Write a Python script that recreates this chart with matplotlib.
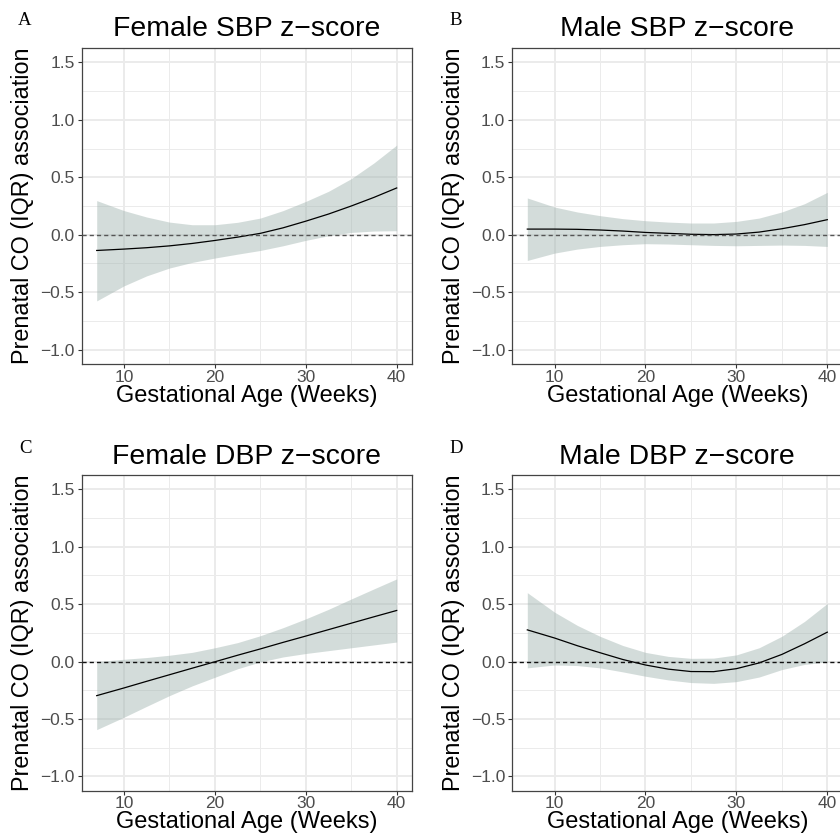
import matplotlib
matplotlib.use("Agg")
import matplotlib.pyplot as plt
from matplotlib.ticker import MultipleLocator, FuncFormatter

# ---------------- data ----------------
weeks = [7, 10, 12.5, 15, 17.5, 20, 22.5, 25, 27.5, 30, 32.5, 35, 37.5, 40]

titles = ["Female SBP z\u2212score", "Male SBP z\u2212score",
          "Female DBP z\u2212score", "Male DBP z\u2212score"]
panel_letters = ["A", "B", "C", "D"]

fsbp_fit = [-0.137, -0.125, -0.113, -0.097, -0.076, -0.050, -0.021, 0.012, 0.060, 0.118, 0.180, 0.250, 0.325, 0.407]
fsbp_lo = [-0.576, -0.445, -0.358, -0.290, -0.241, -0.203, -0.169, -0.137, -0.096, -0.049, -0.009, 0.020, 0.032, 0.035]
fsbp_hi = [0.297, 0.210, 0.154, 0.110, 0.087, 0.087, 0.108, 0.145, 0.210, 0.290, 0.378, 0.488, 0.625, 0.780]

msbp_fit = [0.049, 0.049, 0.047, 0.041, 0.032, 0.020, 0.012, 0.004, 0.001, 0.006, 0.023, 0.052, 0.088, 0.131]
msbp_lo = [-0.224, -0.160, -0.125, -0.102, -0.087, -0.078, -0.081, -0.087, -0.093, -0.096, -0.093, -0.090, -0.093, -0.102]
msbp_hi = [0.320, 0.241, 0.198, 0.166, 0.140, 0.122, 0.110, 0.102, 0.102, 0.116, 0.145, 0.198, 0.270, 0.369]

fdbp_fit = [-0.297, -0.230, -0.172, -0.115, -0.058, -0.002, 0.055, 0.110, 0.167, 0.222, 0.278, 0.334, 0.390, 0.445]
fdbp_lo = [-0.593, -0.485, -0.390, -0.297, -0.212, -0.137, -0.063, -0.003, 0.040, 0.070, 0.095, 0.120, 0.145, 0.170]
fdbp_hi = [0.000, 0.020, 0.035, 0.055, 0.080, 0.120, 0.165, 0.225, 0.295, 0.372, 0.455, 0.545, 0.633, 0.720]

mdbp_fit = [0.276, 0.205, 0.138, 0.077, 0.018, -0.030, -0.066, -0.087, -0.088, -0.062, -0.012, 0.062, 0.155, 0.256]
mdbp_lo = [-0.055, -0.030, -0.035, -0.055, -0.090, -0.128, -0.160, -0.183, -0.190, -0.175, -0.135, -0.070, -0.025, -0.003]
mdbp_hi = [0.600, 0.430, 0.315, 0.220, 0.140, 0.080, 0.045, 0.028, 0.030, 0.058, 0.120, 0.220, 0.350, 0.506]

fits = [fsbp_fit, msbp_fit, fdbp_fit, mdbp_fit]
lows = [fsbp_lo, msbp_lo, fdbp_lo, mdbp_lo]
highs = [fsbp_hi, msbp_hi, fdbp_hi, mdbp_hi]

x_ticks = [10, 20, 30, 40]
y_ticks = [-1.0, -0.5, 0.0, 0.5, 1.0, 1.5]
xlabel = "Gestational Age (Weeks)"
ylabel = "Prenatal CO (IQR) association"

# ---------------- layout ----------------
W = H = 840
fig = plt.figure(figsize=(8.4, 8.4), dpi=100)
plt.rcParams['font.family'] = ['Liberation Sans', 'DejaVu Sans']

# panel pixel boxes: left, top, width, height
boxes = [(81.7, 48.0, 330.0, 316.0), (512.3, 48.0, 330.0, 316.0),
         (81.7, 475.0, 330.0, 315.7), (512.3, 475.0, 330.0, 315.7)]
letter_pos = [(25, 25), (456, 25), (25, 453), (456, 453)]
dash_colors = ["#555555", "#555555", "#111111", "#111111"]

def fmt(v, pos):
    s = f"{v:.1f}"
    return s.replace("-", "\u2212")

for i in range(4):
    l, t, w, h = boxes[i]
    ax = fig.add_axes([l / W, 1 - (t + h) / H, w / W, h / H])
    ax.set_xlim(5.35, 41.65)
    ax.set_ylim(-1.125, 1.625)
    ax.set_facecolor("white")
    ax.xaxis.set_major_locator(MultipleLocator(10))
    ax.xaxis.set_minor_locator(MultipleLocator(5))
    ax.yaxis.set_major_locator(MultipleLocator(0.5))
    ax.yaxis.set_minor_locator(MultipleLocator(0.25))
    ax.set_xticks(x_ticks)
    ax.set_yticks(y_ticks)
    ax.yaxis.set_major_formatter(FuncFormatter(fmt))
    ax.grid(which="major", color="#EBEBEB", lw=1.4)
    ax.grid(which="minor", color="#EBEBEB", lw=0.7)
    ax.set_axisbelow(True)
    for sp in ax.spines.values():
        sp.set_color("#444444")
        sp.set_linewidth(0.9)
    ax.tick_params(which="major", length=3.0, width=0.8, color="#333333",
                   labelsize=12.5, labelcolor="#4D4D4D", pad=2)
    ax.tick_params(which="minor", length=0)
    ax.tick_params(axis="x", pad=1)

    ax.fill_between(weeks, lows[i], highs[i], color="#9FB3AE", alpha=0.45,
                    linewidth=0, zorder=2)
    ax.plot(weeks, fits[i], color="black", lw=0.9, zorder=3)
    ax.axhline(0, color=dash_colors[i], lw=1.0, ls=(0, (3.0, 2.2)), zorder=4)

    cx = l + w / 2
    fig.text(cx / W, 1 - (t - 11.5) / H, titles[i], ha="center", va="baseline",
             fontsize=20.4, color="black")
    fig.text(cx / W, 1 - (t + h + 37.5) / H, xlabel, ha="center", va="baseline",
             fontsize=17, color="black")
    fig.text((l - 59) / W, 1 - (t + h / 2) / H, ylabel, ha="center", va="center",
             rotation=90, fontsize=16.8, color="black")
    lx, ly = letter_pos[i]
    fig.text(lx / W, 1 - ly / H, panel_letters[i], ha="center", va="baseline",
             fontsize=13.5, family=["Liberation Serif", "DejaVu Serif"], color="black")

fig.savefig("out.png", dpi=100, facecolor="white")
